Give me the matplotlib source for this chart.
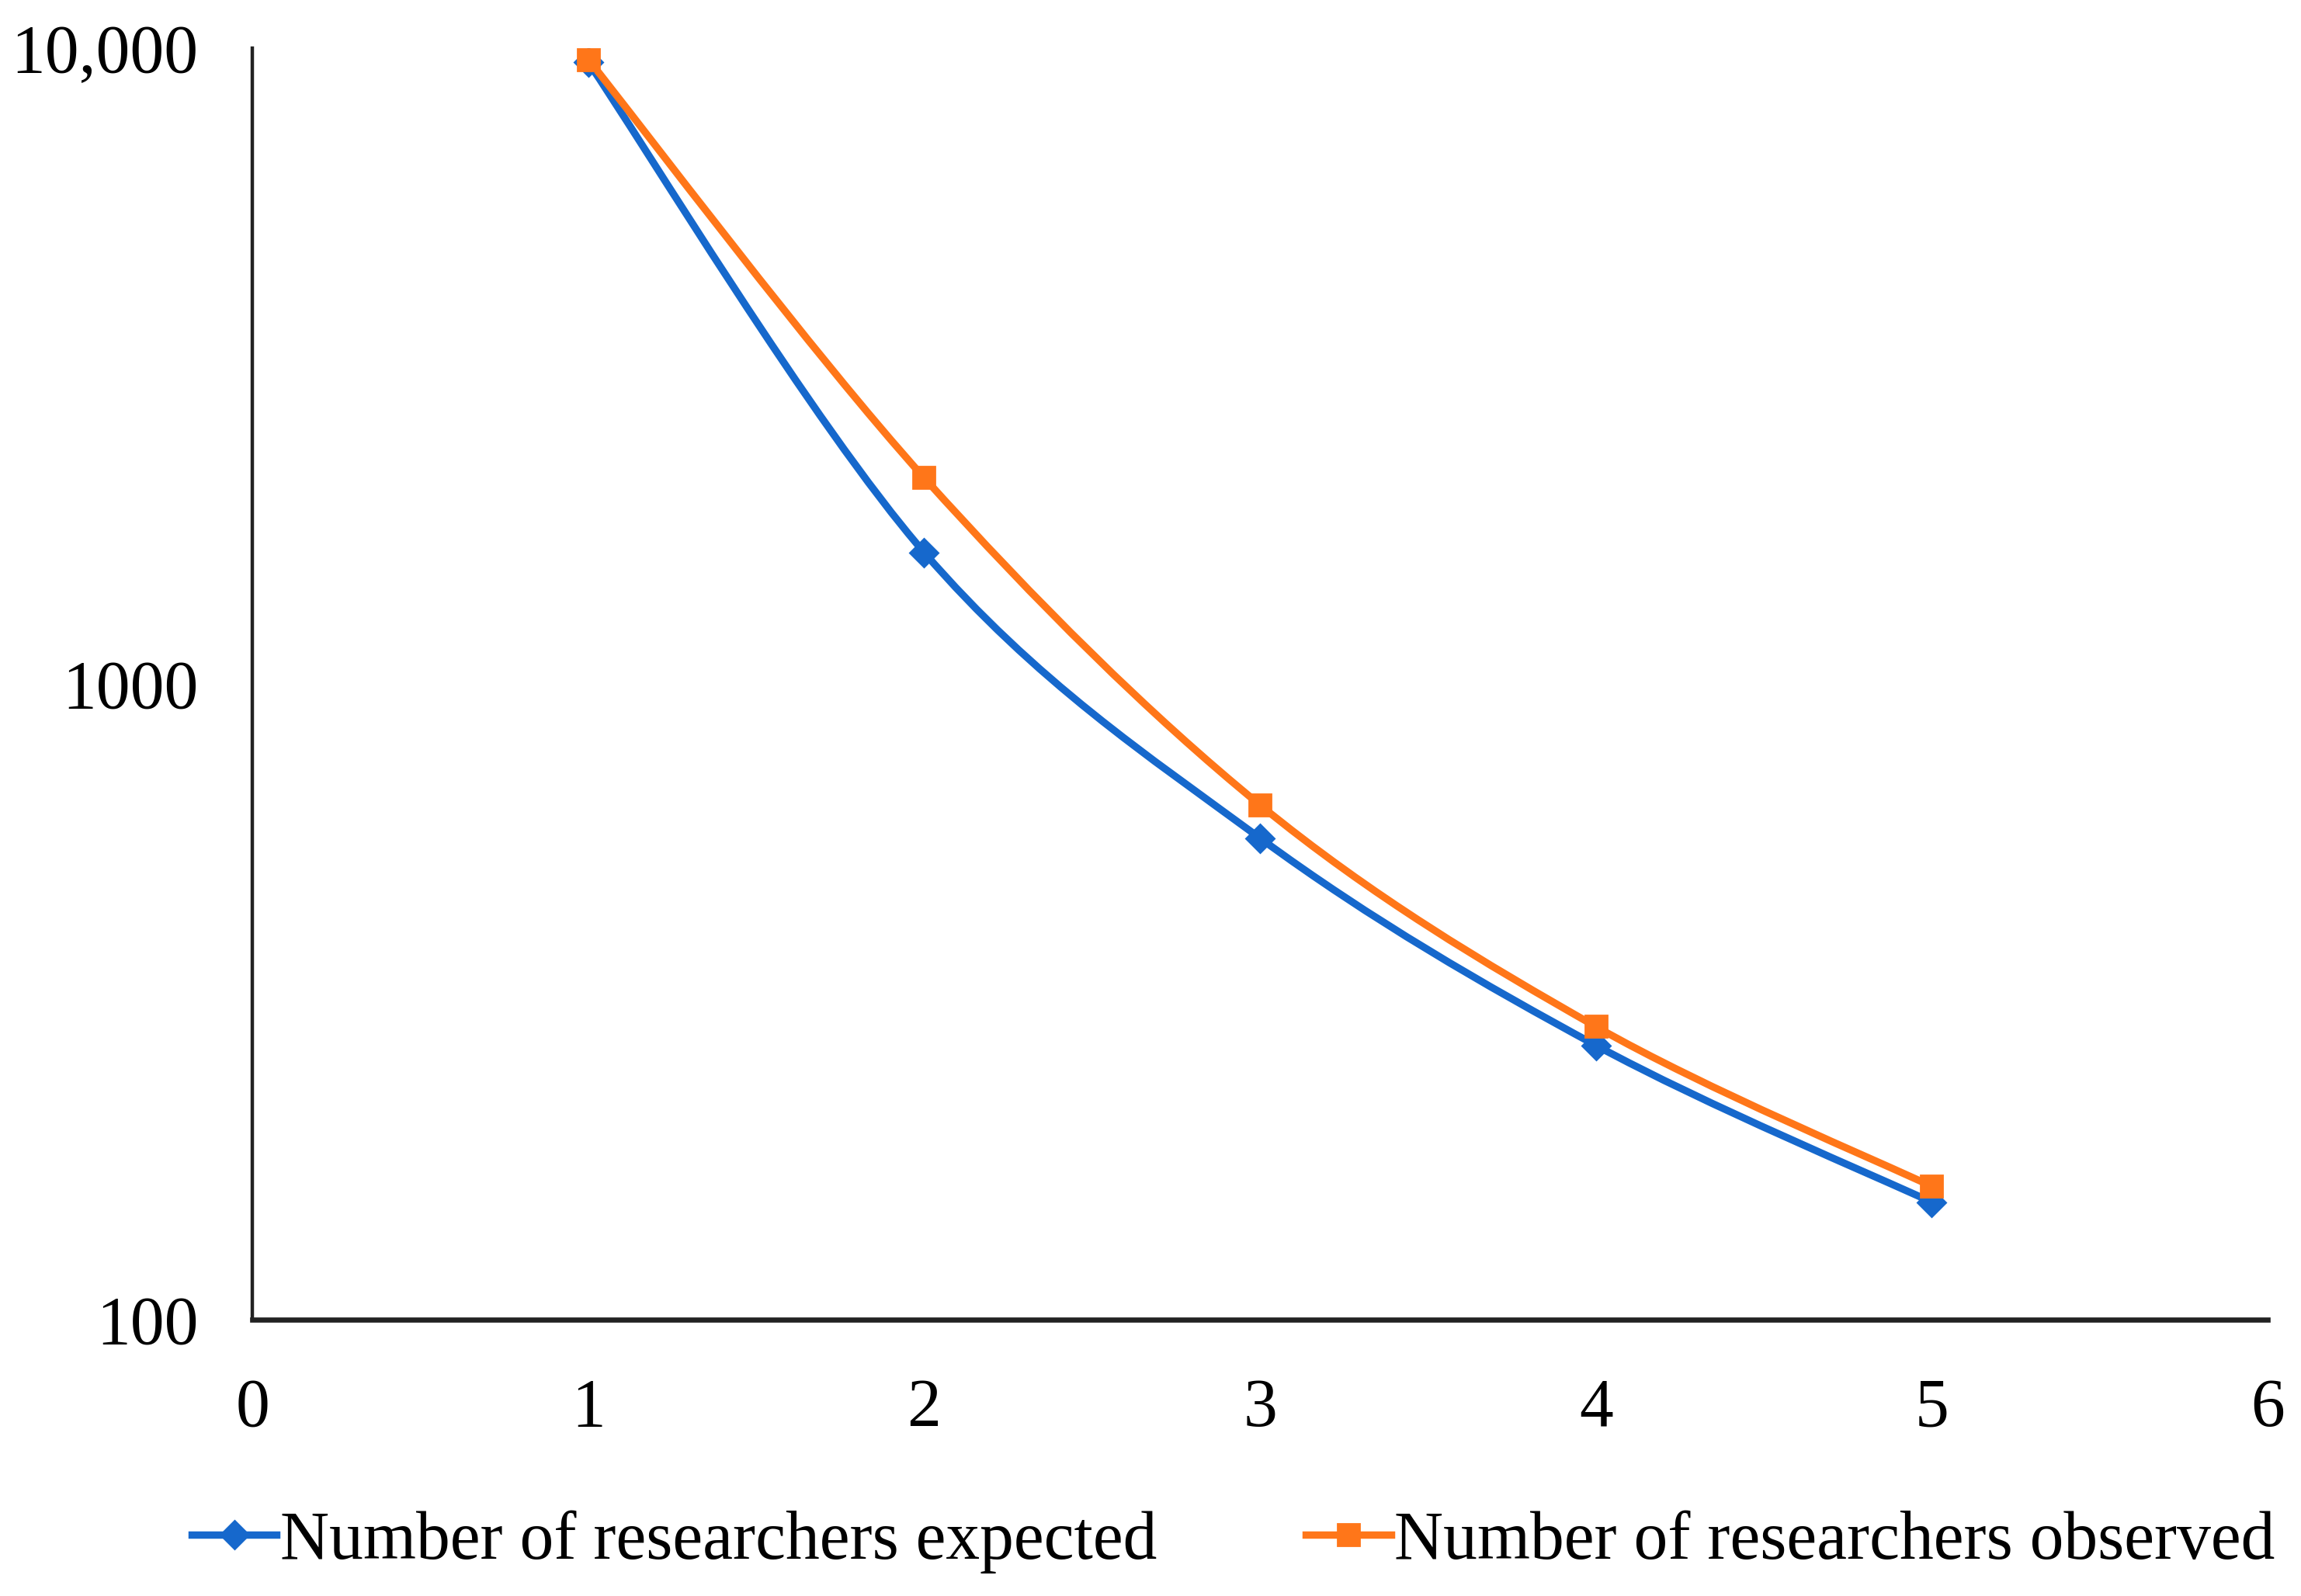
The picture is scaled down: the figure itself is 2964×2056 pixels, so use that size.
import numpy as np
import matplotlib
matplotlib.use("Agg")
import matplotlib.pyplot as plt
from matplotlib.path import Path
from matplotlib.patches import PathPatch
from matplotlib.lines import Line2D
from matplotlib.ticker import FixedLocator, FixedFormatter, NullLocator

# ---- data ----
x_vals = [1, 2, 3, 4, 5]
expected = [9500, 1610, 572, 270, 153]
observed = [9600, 2110, 645, 289, 162]
series_names = ["Number of researchers expected", "Number of researchers observed"]
x_ticks = [0, 1, 2, 3, 4, 5, 6]
y_ticks = [100, 1000, 10000]
y_tick_labels = ["100", "1000", "10,000"]

BLUE = "#1668cc"
ORANGE = "#ff7619"
FONT = "Liberation Serif"
FS = 31.5

plt.rcParams["font.family"] = [FONT, "DejaVu Serif"]

fig = plt.figure(figsize=(14.82, 10.28), dpi=200)
ax = fig.add_axes([0.1097, 0.1732, 0.8758, 0.7966])
ax.set_yscale("log")
ax.set_xlim(0, 6)
ax.set_ylim(100, 10000)


def smooth_path(xs, ys):
    # Excel-like smoothed line: cubic Bezier segments (Catmull-Rom) in x / log10(y) space
    px = np.asarray(xs, float)
    py = np.log10(np.asarray(ys, float))
    n = len(px)
    verts = [(px[0], 10 ** py[0])]
    codes = [Path.MOVETO]
    for i in range(n - 1):
        i0 = max(i - 1, 0)
        i3 = min(i + 2, n - 1)
        c1x = px[i] + (px[i + 1] - px[i0]) / 6
        c1y = py[i] + (py[i + 1] - py[i0]) / 6
        c2x = px[i + 1] - (px[i3] - px[i]) / 6
        c2y = py[i + 1] - (py[i3] - py[i]) / 6
        verts += [(c1x, 10 ** c1y), (c2x, 10 ** c2y), (px[i + 1], 10 ** py[i + 1])]
        codes += [Path.CURVE4, Path.CURVE4, Path.CURVE4]
    return Path(verts, codes)


LW = 3.4
for ys, color in [(expected, BLUE), (observed, ORANGE)]:
    ax.add_patch(PathPatch(smooth_path(x_vals, ys), facecolor="none",
                           edgecolor=color, lw=LW, capstyle="round", zorder=2))

ax.plot(x_vals, expected, linestyle="none", marker="D", markersize=9,
        color=BLUE, zorder=3)
ax.plot(x_vals, observed, linestyle="none", marker="s", markersize=10,
        color=ORANGE, zorder=4)

# axes styling
for s in ["top", "right"]:
    ax.spines[s].set_visible(False)
ax.spines["left"].set_linewidth(1.6)
ax.spines["bottom"].set_linewidth(2.4)
ax.spines["left"].set_color("#222222")
ax.spines["bottom"].set_color("#222222")

ax.xaxis.set_major_locator(FixedLocator(x_ticks))
ax.set_xticklabels([str(t) for t in x_ticks])
ax.yaxis.set_major_locator(FixedLocator(y_ticks))
ax.yaxis.set_major_formatter(FixedFormatter(y_tick_labels))
ax.yaxis.set_minor_locator(NullLocator())
ax.tick_params(axis="both", length=0, labelsize=FS, colors="black")
ax.tick_params(axis="x", pad=27)
ax.tick_params(axis="y", pad=25)

handles = [
    Line2D([], [], color=BLUE, lw=LW, marker="D", markersize=9),
    Line2D([], [], color=ORANGE, lw=LW, marker="s", markersize=10),
]
fig.legend(handles, series_names, loc="center", bbox_to_anchor=(0.536, 0.034),
           ncol=2, frameon=False, fontsize=FS, handlelength=1.25,
           handletextpad=0.05, columnspacing=2.2)

fig.savefig("out.png", dpi=200, facecolor="white")
